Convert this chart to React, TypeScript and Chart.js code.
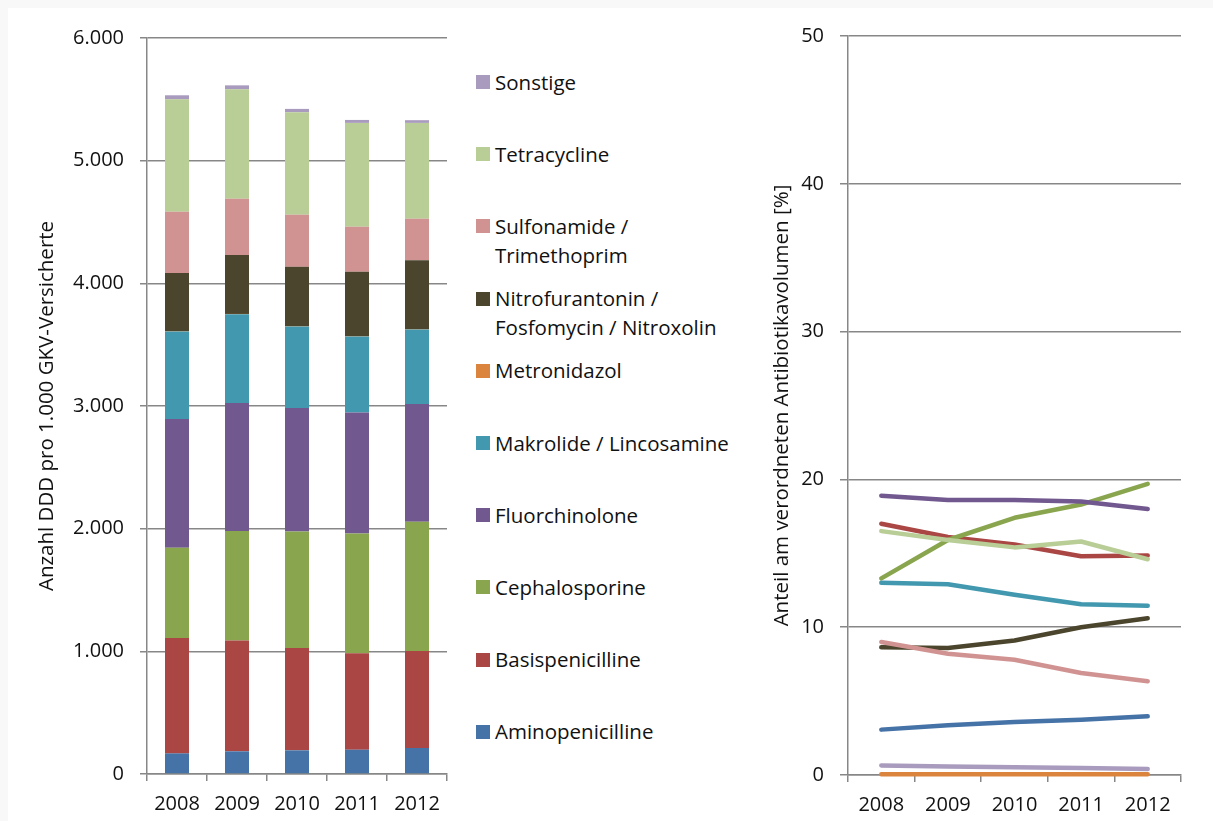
import React, { useEffect, useRef } from 'react';
import { Chart, registerables } from 'chart.js';
Chart.register(...registerables);

const years = ['2008', '2009', '2010', '2011', '2012'];

const seriesNames = [
  'Aminopenicilline',
  'Basispenicilline',
  'Cephalosporine',
  'Fluorchinolone',
  'Makrolide / Lincosamine',
  'Metronidazol',
  'Nitrofurantonin / Fosfomycin / Nitroxolin',
  'Sulfonamide / Trimethoprim',
  'Tetracycline',
  'Sonstige',
];

const legendLines = [
  ['Aminopenicilline'],
  ['Basispenicilline'],
  ['Cephalosporine'],
  ['Fluorchinolone'],
  ['Makrolide / Lincosamine'],
  ['Metronidazol'],
  ['Nitrofurantonin /', 'Fosfomycin / Nitroxolin'],
  ['Sulfonamide /', 'Trimethoprim'],
  ['Tetracycline'],
  ['Sonstige'],
];

const seriesColors = [
  '#4572A7',
  '#AA4643',
  '#89A54E',
  '#71588F',
  '#4198AF',
  '#DB843D',
  '#4A452C',
  '#D19392',
  '#B9CD96',
  '#A99BBD',
];

// DDD pro 1.000 GKV-Versicherte
const dddAmino = [168, 185, 193, 198, 212];
const dddBasis = [941, 903, 835, 787, 791];
const dddCeph = [736, 892, 949, 976, 1053];
const dddFluor = [1049, 1044, 1007, 987, 960];
const dddMakro = [713, 724, 664, 618, 607];
const dddMetro = [3, 3, 3, 3, 3];
const dddNitro = [475, 480, 485, 526, 562];
const dddSulfo = [498, 458, 423, 366, 338];
const dddTetra = [917, 893, 836, 847, 782];
const dddSonst = [33, 32, 27, 24, 22];

// Anteil am verordneten Antibiotikavolumen [%]
const pctAmino = [3.07, 3.36, 3.58, 3.74, 3.97];
const pctBasis = [17.0, 16.1, 15.6, 14.8, 14.85];
const pctCeph = [13.3, 15.9, 17.4, 18.3, 19.7];
const pctFluor = [18.9, 18.6, 18.6, 18.5, 18.0];
const pctMakro = [13.0, 12.9, 12.2, 11.55, 11.45];
const pctMetro = [0.05, 0.05, 0.05, 0.05, 0.05];
const pctNitro = [8.65, 8.6, 9.1, 10.0, 10.6];
const pctSulfo = [9.0, 8.2, 7.8, 6.9, 6.35];
const pctTetra = [16.5, 15.9, 15.4, 15.8, 14.6];
const pctSonst = [0.65, 0.58, 0.52, 0.47, 0.4];

const dddSeries = [dddAmino, dddBasis, dddCeph, dddFluor, dddMakro, dddMetro, dddNitro, dddSulfo, dddTetra, dddSonst];
const pctSeries = [pctAmino, pctBasis, pctCeph, pctFluor, pctMakro, pctMetro, pctNitro, pctSulfo, pctTetra, pctSonst];

const leftTickLabels = ['0', '1.000', '2.000', '3.000', '4.000', '5.000', '6.000'];
const rightTickLabels = ['0', '10', '20', '30', '40', '50'];

const FONT = '"Open Sans", "Noto Sans", sans-serif';
const GRID = '#878787';
const TEXT = '#111111';

export default function App() {
  const leftRef = useRef<HTMLCanvasElement | null>(null);
  const rightRef = useRef<HTMLCanvasElement | null>(null);

  useEffect(() => {
    document.body.style.background = '#f8f8f8';
    const font = { family: FONT, size: 20 };
    const titleFont = { family: FONT, size: 20.5 };

    const left = new Chart(leftRef.current as HTMLCanvasElement, {
      type: 'bar',
      data: {
        labels: years,
        datasets: seriesNames.map((name, i) => ({
          label: name,
          data: dddSeries[i],
          backgroundColor: seriesColors[i],
          borderWidth: 0,
          barPercentage: 0.4,
          categoryPercentage: 1,
        })),
      },
      options: {
        animation: false,
        responsive: false,
        maintainAspectRatio: false,
        layout: { padding: { left: 0, right: 13, top: 0, bottom: 0 } },
        plugins: { legend: { display: false }, tooltip: { enabled: false } },
        scales: {
          x: {
            stacked: true,
            offset: true,
            grid: { offset: true, drawOnChartArea: false, drawTicks: true, tickLength: 7, color: GRID, lineWidth: 1.5 },
            border: { color: GRID, width: 1.5 },
            ticks: { color: TEXT, font, padding: 11 },
            afterFit: (s: any) => { s.height = 41; },
          },
          y: {
            stacked: true,
            min: 0,
            max: 6000,
            ticks: {
              stepSize: 1000,
              color: TEXT,
              font,
              padding: 16,
              callback: (v: any) => leftTickLabels[Math.round(Number(v) / 1000)] ?? '',
            },
            grid: { color: GRID, lineWidth: 1.5, drawTicks: true, tickLength: 7 },
            border: { color: GRID, width: 1.5 },
            title: {
              display: true,
              text: 'Anzahl DDD pro 1.000 GKV-Versicherte',
              color: TEXT,
              font: titleFont,
              padding: { top: 15, bottom: 0 },
            },
            afterFit: (s: any) => { s.width = 127; },
          },
        },
      },
    });

    const right = new Chart(rightRef.current as HTMLCanvasElement, {
      type: 'line',
      data: {
        labels: years,
        datasets: seriesNames.map((name, i) => ({
          label: name,
          data: pctSeries[i],
          borderColor: seriesColors[i],
          backgroundColor: seriesColors[i],
          borderWidth: 4.5,
          borderCapStyle: 'round' as const,
          borderJoinStyle: 'round' as const,
          pointRadius: 0,
          tension: 0,
          fill: false,
          order: seriesNames.length - i,
          clip: 6,
        })),
      },
      options: {
        animation: false,
        responsive: false,
        maintainAspectRatio: false,
        layout: { padding: { left: 0, right: 24, top: 0, bottom: 0 } },
        plugins: { legend: { display: false }, tooltip: { enabled: false } },
        scales: {
          x: {
            offset: true,
            grid: { offset: true, drawOnChartArea: false, drawTicks: true, tickLength: 7, color: GRID, lineWidth: 1.5 },
            border: { color: GRID, width: 1.5 },
            ticks: { color: TEXT, font, padding: 11 },
            afterFit: (s: any) => { s.height = 40; },
          },
          y: {
            min: 0,
            max: 50,
            ticks: {
              stepSize: 10,
              color: TEXT,
              font,
              padding: 16,
              callback: (v: any) => rightTickLabels[Math.round(Number(v) / 10)] ?? '',
            },
            grid: { color: GRID, lineWidth: 1.5, drawTicks: true, tickLength: 8 },
            border: { color: GRID, width: 1.5 },
            title: {
              display: true,
              text: 'Anteil am verordneten Antibiotikavolumen [%]',
              color: TEXT,
              font: titleFont,
              padding: { top: 20, bottom: 0 },
            },
            afterFit: (s: any) => { s.width = 98; },
          },
        },
      },
    });

    return () => {
      left.destroy();
      right.destroy();
    };
  }, []);

  const legendOrder = seriesNames.map((_, i) => seriesNames.length - 1 - i);

  return (
    <div
      style={{
        position: 'absolute',
        left: 8,
        top: 8,
        width: 1205,
        height: 813,
        background: '#ffffff',
        overflow: 'hidden',
        fontFamily: FONT,
      }}
    >
      <canvas
        ref={leftRef}
        width={440}
        height={805}
        style={{ position: 'absolute', left: 12, top: 2, width: 440, height: 805 }}
      />
      <canvas
        ref={rightRef}
        width={455}
        height={807}
        style={{ position: 'absolute', left: 742, top: 0, width: 455, height: 807 }}
      />
      {legendOrder.map((idx, k) => (
        <div
          key={idx}
          style={{
            position: 'absolute',
            left: 468,
            top: 82 + k * 72.2 - 14.5 - 8,
            fontSize: 20.5,
            lineHeight: '29px',
            color: TEXT,
            whiteSpace: 'nowrap',
          }}
        >
          <span
            style={{
              position: 'absolute',
              left: 0,
              top: 7.5,
              width: 14,
              height: 14,
              background: seriesColors[idx],
            }}
          />
          <div style={{ marginLeft: 19 }}>
            {legendLines[idx].map((line, j) => (
              <div key={j}>{line}</div>
            ))}
          </div>
        </div>
      ))}
    </div>
  );
}
